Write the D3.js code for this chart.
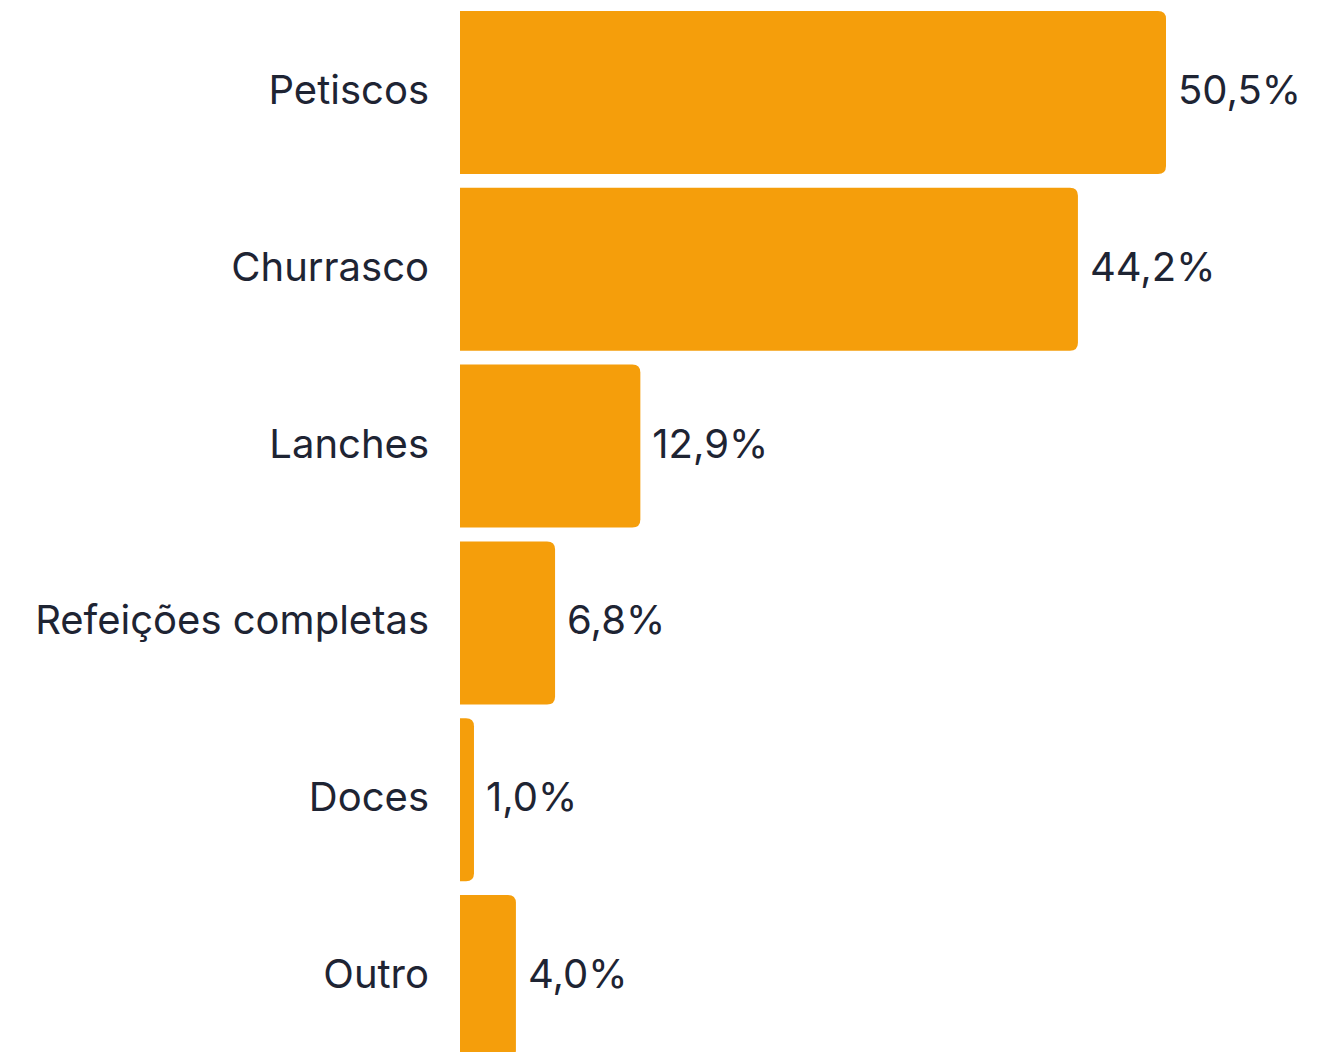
<!DOCTYPE html>
<html>
<head>
<meta charset="utf-8">
<script src="https://cdn.jsdelivr.net/npm/d3@7"></script>
<style>
html,body{margin:0;padding:0;background:#fff;overflow:hidden}
svg{display:block}
</style>
</head>
<body>
<script>
const categories = ["Petiscos","Churrasco","Lanches","Refeições completas","Doces","Outro"];
const values = [50.5, 44.2, 12.9, 6.8, 1.0, 4.0];
const valueLabels = ["50,5%","44,2%","12,9%","6,8%","1,0%","4,0%"];

const W = 1318, H = 1052;
const svg = d3.select("body").append("svg").attr("width", W).attr("height", H);

const x = d3.scaleLinear().domain([0, 50.5]).range([460, 1166]);
const y = d3.scaleBand().domain(categories).range([11, 1058]).paddingInner(0.078).paddingOuter(0);

const r = 8;
function barPath(x0, x1, y0, h) {
  const rr = Math.min(r, (x1 - x0), h / 2);
  return `M${x0},${y0}H${x1 - rr}Q${x1},${y0} ${x1},${y0 + rr}V${y0 + h - rr}Q${x1},${y0 + h} ${x1 - rr},${y0 + h}H${x0}Z`;
}

const data = categories.map((c, i) => ({c, v: values[i], l: valueLabels[i]}));

svg.selectAll("path.bar").data(data).join("path")
  .attr("class", "bar")
  .attr("fill", "#F59E0B")
  .attr("d", d => barPath(x(0), x(d.v), y(d.c), y.bandwidth()));

svg.selectAll("text.cat").data(data).join("text")
  .attr("class", "cat")
  .attr("x", 429)
  .attr("y", d => y(d.c) + y.bandwidth() / 2)
  .attr("dy", "0.29em")
  .attr("text-anchor", "end")
  .attr("font-family", "Inter, 'Noto Sans', sans-serif")
  .attr("font-size", 40)
  .attr("fill", "#1e2433")
  .text(d => d.c);

svg.selectAll("text.val").data(data).join("text")
  .attr("class", "val")
  .attr("x", d => x(d.v) + 12)
  .attr("y", d => y(d.c) + y.bandwidth() / 2)
  .attr("dy", "0.29em")
  .attr("text-anchor", "start")
  .attr("font-family", "Inter, 'Noto Sans', sans-serif")
  .attr("font-size", 40)
  .attr("fill", "#1e2433")
  .text(d => d.l);
</script>
</body>
</html>
